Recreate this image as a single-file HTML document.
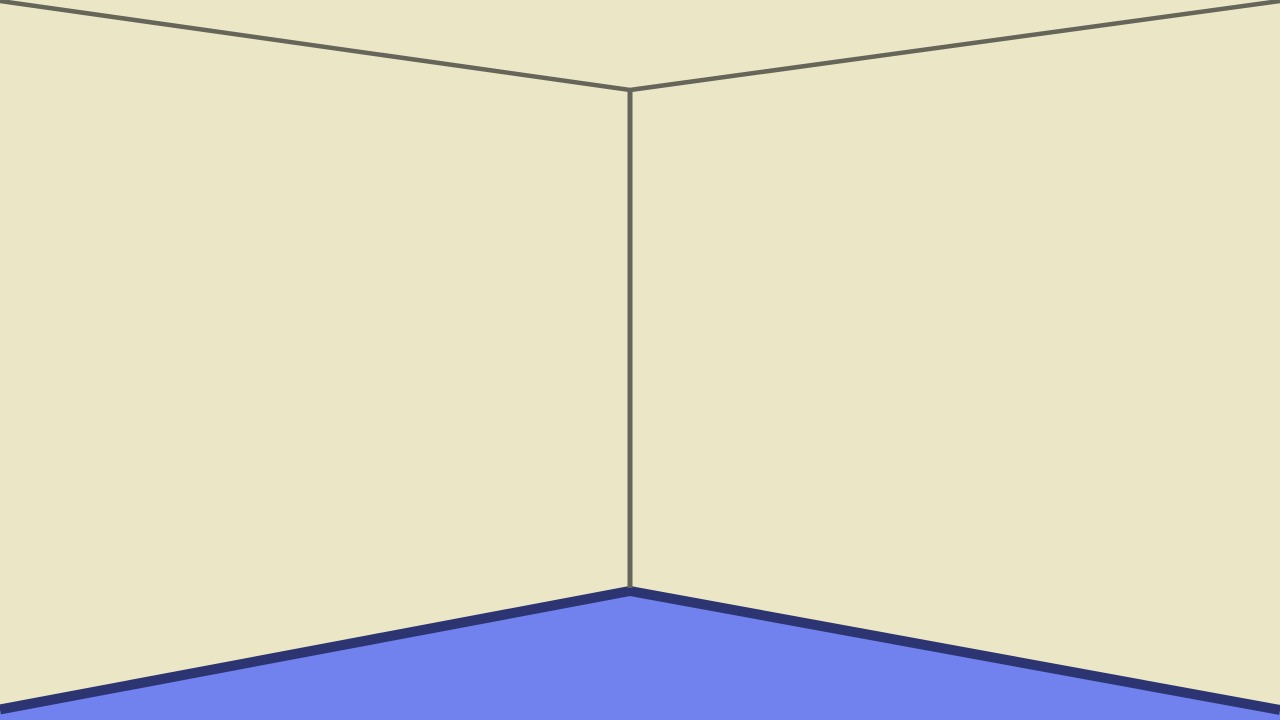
<!DOCTYPE html>
<html><head><meta charset="utf-8"><style>html,body{margin:0;padding:0;background:#ebe6c6;overflow:hidden}svg{display:block}</style></head>
<body>
<svg width="1280" height="720" viewBox="0 0 1280 720">
<rect x="0" y="0" width="1280" height="720" fill="#ebe6c6"/>
<polygon points="0,709.5 630,591 1280,710 1280,720 0,720" fill="#7181ee"/>
<polyline points="0,709.5 630,591 1280,710" fill="none" stroke="#2c3571" stroke-width="10"/>
<polyline points="0,1 630,90 1280,1" fill="none" stroke="#65655a" stroke-width="4.5"/>
<line x1="630" y1="90" x2="630" y2="588" stroke="#65655a" stroke-width="5"/>
</svg>
</body></html>
